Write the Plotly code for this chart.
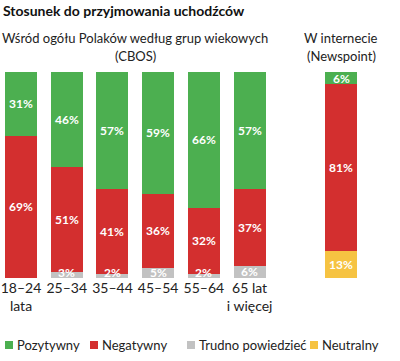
import plotly.graph_objects as go

categories = ["18–24<br>lata", "25–34", "35–44", "45–54", "55–64", "65 lat<br>i więcej"]
pozytywny = [31, 46, 57, 59, 66, 57]
negatywny = [69, 51, 41, 36, 32, 37]
trudno = [0, 3, 2, 5, 2, 6]

web_label = "Newspoint"
web_pozytywny = 6
web_negatywny = 81
web_neutralny = 13

legend_names = ["Pozytywny", "Negatywny", "Trudno powiedzieć", "Neutralny"]

GREEN = "#4caf50"
RED = "#d32f2f"
GRAY = "#c2c2c2"
YELLOW = "#f6c342"
legend_colors = [GREEN, RED, GRAY, YELLOW]
FONT = "Lato"
TXT = "#222"

H = 361
MT, MB = 72, 83
plot_h = H - MT - MB

def py(pix_from_top):
    return (H - MB - pix_from_top) / plot_h

def px(pix_from_left):
    return pix_from_left / 400

xs = list(range(len(categories)))
xw = len(categories) + 1

fig = go.Figure()
W = 0.7
fig.add_bar(x=xs, y=trudno, name=legend_names[2], marker_color=GRAY, width=W)
fig.add_bar(x=[xw], y=[web_neutralny], name=legend_names[3], marker_color=YELLOW, width=W)
fig.add_bar(x=xs + [xw], y=negatywny + [web_negatywny], name=legend_names[1], marker_color=RED, width=W)
fig.add_bar(x=xs + [xw], y=pozytywny + [web_pozytywny], name=legend_names[0], marker_color=GREEN, width=W)
for tr in fig.data:
    tr.marker.line.width = 0
    tr.hoverinfo = "skip"

def lab(x, y, v, lift=0):
    if v > 0:
        fig.add_annotation(x=x, y=y, text=f"<b>{v}%</b>", showarrow=False, xref="x", yref="y",
                           borderpad=0, yshift=lift, font=dict(color="white", size=12, family=FONT))

for i in xs:
    lab(i, trudno[i] / 2, trudno[i], lift=max(0, round(5 - trudno[i])))
    lab(i, trudno[i] + negatywny[i] / 2, negatywny[i])
    lab(i, trudno[i] + negatywny[i] + pozytywny[i] / 2, pozytywny[i])
lab(xw, web_neutralny / 2, web_neutralny)
lab(xw, web_neutralny + web_negatywny / 2, web_negatywny)
lab(xw, web_neutralny + web_negatywny + web_pozytywny / 2, web_pozytywny)

fig.add_annotation(x=0, xshift=1, y=py(11), xref="paper", yref="paper", text="<b>Stosunek do przyjmowania uchodźców</b>",
                   showarrow=False, xanchor="left", yanchor="middle", font=dict(size=14, color="#111", family=FONT))

sub = dict(size=13, color=TXT, family=FONT)
fig.add_annotation(x=2.5, y=py(38), xref="x", yref="paper", showarrow=False, yanchor="middle",
                   text="Wśród ogółu Polaków według grup wiekowych", font=sub)
fig.add_annotation(x=2.5, y=py(56), xref="x", yref="paper", showarrow=False, yanchor="middle",
                   text="(CBOS)", font=sub)
fig.add_annotation(x=xw, y=py(38), xref="x", yref="paper", showarrow=False, yanchor="middle",
                   text="W internecie", font=sub)
fig.add_annotation(x=xw, y=py(56), xref="x", yref="paper", showarrow=False, yanchor="middle",
                   text="(" + web_label + ")", font=sub)

# legend drawn manually to match compact layout
leg_x = [5, 90, 187, 310]
leg_y = 345
for lx, name, col in zip(leg_x, legend_names, legend_colors):
    fig.add_shape(type="rect", xref="paper", yref="paper", x0=px(lx), x1=px(lx + 8),
                  y0=py(leg_y + 4), y1=py(leg_y - 4), fillcolor=col, line_width=0)
    fig.add_annotation(x=px(lx + 10), y=py(leg_y), xref="paper", yref="paper", text=name,
                       showarrow=False, xanchor="left", yanchor="middle", font=dict(size=13, color=TXT, family=FONT))

fig.update_layout(
    width=400, height=H,
    barmode="stack",
    showlegend=False,
    margin=dict(l=0, r=0, t=MT, b=MB, autoexpand=False),
    paper_bgcolor="white", plot_bgcolor="white",
    font=dict(family=FONT, size=13, color=TXT),
    xaxis=dict(range=[-0.46, 8.29], tickmode="array", tickvals=xs, ticktext=categories,
               showgrid=False, zeroline=False, showline=False, ticks="", automargin=False,
               tickfont=dict(size=14, color=TXT)),
    yaxis=dict(range=[0, 100], visible=False),
)

fig.write_html("out.html", config={"displayModeBar": False},
               post_script="document.body.style.margin='0';")
